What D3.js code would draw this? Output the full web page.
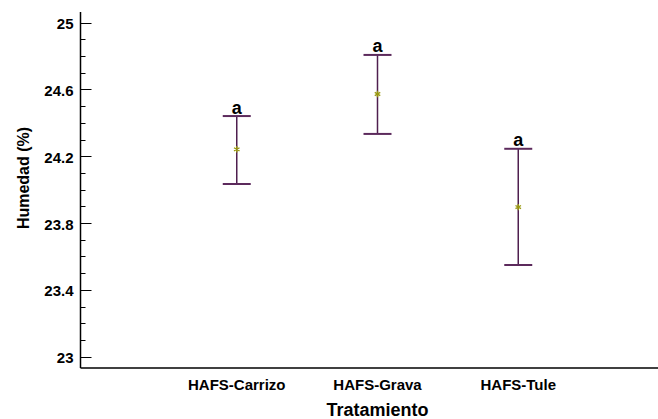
<!DOCTYPE html>
<html lang="es">
<head>
<meta charset="UTF-8">
<title>Humedad por tratamiento</title>
<script src="https://cdn.jsdelivr.net/npm/d3@7"></script>
<style>
  body { margin: 0; background: #fff; }
  text { font-family: "Liberation Sans", Arial, sans-serif; font-weight: bold; fill: #000; }
</style>
</head>
<body>
<div id="viz"></div>
<script>
// data
var categories = ["HAFS-Carrizo", "HAFS-Grava", "HAFS-Tule"];
var means = [24.242, 24.573, 23.896];
var upper = [24.441, 24.807, 24.245];
var lower = [24.034, 24.334, 23.549];
var groups = ["a", "a", "a"];
var yTicks = [23, 23.4, 23.8, 24.2, 24.6, 25];

var w = 658, h = 419;

var svg = d3.select("#viz").append("svg")
    .attr("width", w)
    .attr("height", h);

var y = d3.scaleLinear().domain([23, 25]).range([356.7, 22.7]);
var x = d3.scalePoint().domain(categories).range([96, 659]).padding(1);

var axisX = 80.5, axisBottom = 368;

// y axis line
svg.append("line")
    .attr("x1", axisX).attr("x2", axisX)
    .attr("y1", 12).attr("y2", axisBottom)
    .attr("stroke", "#000").attr("stroke-width", 1.5);

// x axis line
svg.append("line")
    .attr("x1", axisX).attr("x2", w)
    .attr("y1", axisBottom).attr("y2", axisBottom)
    .attr("stroke", "#000").attr("stroke-width", 1.5);

// minor ticks every 0.1, major every 0.4
var minor = d3.range(0, 21).map(function(i){ return 23 + i * 0.1; });
svg.append("g").selectAll("line")
    .data(minor)
    .enter().append("line")
    .attr("x1", axisX)
    .attr("x2", function(d, i){ return i % 4 == 0 ? axisX + 11 : axisX + 5; })
    .attr("y1", function(d){ return Math.round(y(d)) + 0.5; })
    .attr("y2", function(d){ return Math.round(y(d)) + 0.5; })
    .attr("stroke", "#000").attr("stroke-width", 1);

// tick labels
svg.append("g").selectAll("text")
    .data(yTicks)
    .enter().append("text")
    .attr("x", axisX - 7)
    .attr("y", function(d){ return y(d) + 6.5; })
    .attr("text-anchor", "end")
    .style("font-size", "15px")
    .text(function(d){ return d3.format("")(d); });

// error bars
var bars = svg.append("g").selectAll("g")
    .data(categories)
    .enter().append("g");

bars.append("line")
    .attr("x1", function(d){ return x(d); })
    .attr("x2", function(d){ return x(d); })
    .attr("y1", function(d, i){ return y(upper[i]); })
    .attr("y2", function(d, i){ return y(lower[i]); })
    .attr("stroke", "#4f1f4f").attr("stroke-width", 1.5);

[upper, lower].forEach(function(arr){
    bars.append("line")
        .attr("x1", function(d){ return x(d) - 14; })
        .attr("x2", function(d){ return x(d) + 14; })
        .attr("y1", function(d, i){ return y(arr[i]); })
        .attr("y2", function(d, i){ return y(arr[i]); })
        .attr("stroke", "#5c2a5c").attr("stroke-width", 2);
});

// mean markers
bars.append("path")
    .attr("transform", function(d, i){ return "translate(" + x(d) + "," + y(means[i]) + ")"; })
    .attr("d", d3.symbol().type(d3.symbolAsterisk).size(28))
    .attr("fill", "none")
    .attr("stroke", "#9a9a10").attr("stroke-width", 1.3);

// group letters
bars.append("text")
    .attr("x", function(d){ return x(d); })
    .attr("y", function(d, i){ return y(upper[i]) - 2.5; })
    .attr("text-anchor", "middle")
    .style("font-size", "18px")
    .text(function(d, i){ return groups[i]; });

// category labels
svg.append("g").selectAll("text")
    .data(categories)
    .enter().append("text")
    .attr("x", function(d){ return x(d); })
    .attr("y", 390)
    .attr("text-anchor", "middle")
    .style("font-size", "15px")
    .text(function(d){ return d; });

// axis titles
svg.append("text")
    .attr("x", 377.5)
    .attr("y", 416)
    .attr("text-anchor", "middle")
    .style("font-size", "18px")
    .text("Tratamiento");

svg.append("text")
    .attr("transform", "translate(29,178) rotate(-90)")
    .attr("text-anchor", "middle")
    .style("font-size", "16px")
    .text("Humedad (%)");
</script>
</body>
</html>
